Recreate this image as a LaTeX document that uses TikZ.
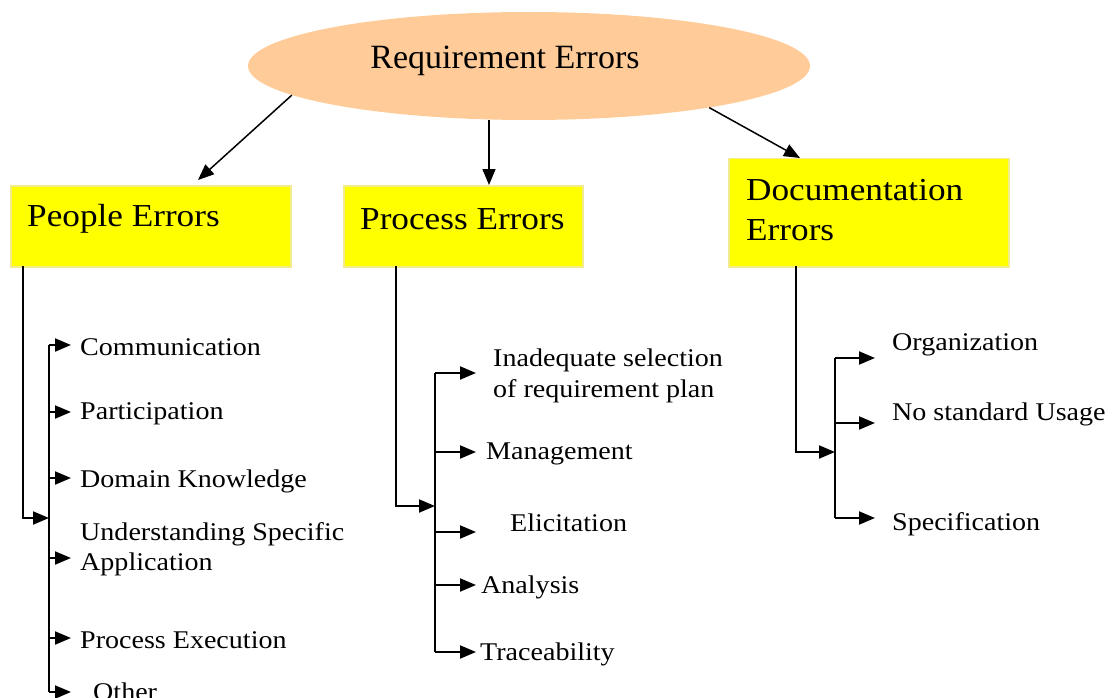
\documentclass[tikz,border=0pt]{standalone}
\usepackage{fontspec}
\setmainfont{Liberation Serif}
\newfontfamily\wideserif[FakeStretch=1.1]{Liberation Serif}
\usetikzlibrary{shapes.geometric,arrows.meta}

\begin{document}
\begin{tikzpicture}[x=1pt,y=-1pt]
    \providecommand{\titlefont}{\fontsize{34}{38}\selectfont}
    \providecommand{\headfont}{\wideserif\fontsize{32}{40}\selectfont}
    \providecommand{\leaffont}{\wideserif\fontsize{25.5}{30.5}\selectfont}
    \definecolor{peach}{RGB}{255,204,153}
    \definecolor{boxedge}{RGB}{242,236,140}
    \definecolor{boxfill}{RGB}{255,255,0}
    \tikzset{
        ybox/.style={rectangle,fill=boxfill,draw=boxedge,line width=1.5pt,anchor=north west,inner sep=0},
        headtext/.style={anchor=west,inner sep=0,yshift=-3pt,font=\headfont,align=left},
        leaf/.style={anchor=west,inner sep=0,yshift=-3pt,font=\leaffont,align=left},
        wire/.style={line width=2pt},
        tip/.style={wire,-{Triangle[length=16pt,width=13pt]}},
        thin tip/.style={line width=1.5pt,-{Triangle[length=16pt,width=13pt]}}
    }
    \useasboundingbox (0,0) rectangle (1119,698);
    % top ellipse
    \node[ellipse,fill=peach,minimum width=562pt,minimum height=108pt,inner sep=0] (req) at (529,66) {};
    \node[font=\titlefont,inner sep=0] (reqtext) at (505,61) {Requirement Errors};
    % the three boxes
    \node[ybox,minimum width=280pt,minimum height=81pt] (people) at (10,185) {};
    \node[headtext] (peopletext) at (27,216) {People Errors};
    \node[ybox,minimum width=239pt,minimum height=81pt] (process) at (343,185) {};
    \node[headtext] (processtext) at (360,216) {Process Errors};
    \node[ybox,minimum width=280pt,minimum height=108pt] (doc) at (728,158) {};
    \node[headtext] (doctext) at (746,207) {Documentation\\Errors};
    \coordinate (people-in) at (198,180);
    \coordinate (process-in) at (489,185);
    \coordinate (doc-in) at (800,158);
    \draw[thin tip] (req.187.6) -- (people-in);
    \draw[thin tip] (req.south -| process-in) -- (process-in);
    \draw[thin tip] (req.347.6) -- (doc-in);
    % people branch
    \coordinate (pout) at (23,266);
    \coordinate (pbus) at (49,518);
    \coordinate (ptop) at (49,345);
    \coordinate (pbot) at (49,692);
    \draw[tip] (pout) |- (pbus);
    \draw[wire] (ptop) -- (pbot);
    \foreach \nm/\ay/\tx/\ty/\txt in {comm/345/80/344/Communication,part/412/80/411/Participation,dom/478/80/478/Domain Knowledge,und/558/80/546/{Understanding Specific\\Application},pex/638/80/637/Process Execution,oth/692/93/689/Other}{
        \coordinate (\nm-tip) at (71,\ay);
        \draw[tip] (\nm-tip -| pbus) -- (\nm-tip);
        \node[leaf] (\nm) at (\tx,\ty) {\txt};
    }
    % process branch
    \coordinate (rout) at (396,266);
    \coordinate (rbus) at (435,506);
    \coordinate (rtop) at (435,373);
    \coordinate (rbot) at (435,652);
    \draw[tip] (rout) |- (rbus);
    \draw[wire] (rtop) -- (rbot);
    \foreach \nm/\ay/\tx/\ty/\txt in {inad/373/493/373/{Inadequate selection\\of requirement plan},mgmt/452/486/451/Management,elic/532/510/520/Elicitation,anal/585/481/584/Analysis,trac/652/480/651/Traceability}{
        \coordinate (\nm-tip) at (476,\ay);
        \draw[tip] (\nm-tip -| rbus) -- (\nm-tip);
        \node[leaf] (\nm) at (\tx,\ty) {\txt};
    }
    % documentation branch
    \coordinate (dout) at (796,266);
    \coordinate (dbus) at (835,452);
    \coordinate (dtop) at (835,358);
    \coordinate (dbot) at (835,518);
    \draw[tip] (dout) |- (dbus);
    \draw[wire] (dtop) -- (dbot);
    \foreach \nm/\ay/\tx/\ty/\txt in {org/358/892/342/Organization,nstd/423/892/411/No standard Usage,spec/518/892/521/Specification}{
        \coordinate (\nm-tip) at (875,\ay);
        \draw[tip] (\nm-tip -| dbus) -- (\nm-tip);
        \node[leaf] (\nm) at (\tx,\ty) {\txt};
    }
\end{tikzpicture}
\end{document}
